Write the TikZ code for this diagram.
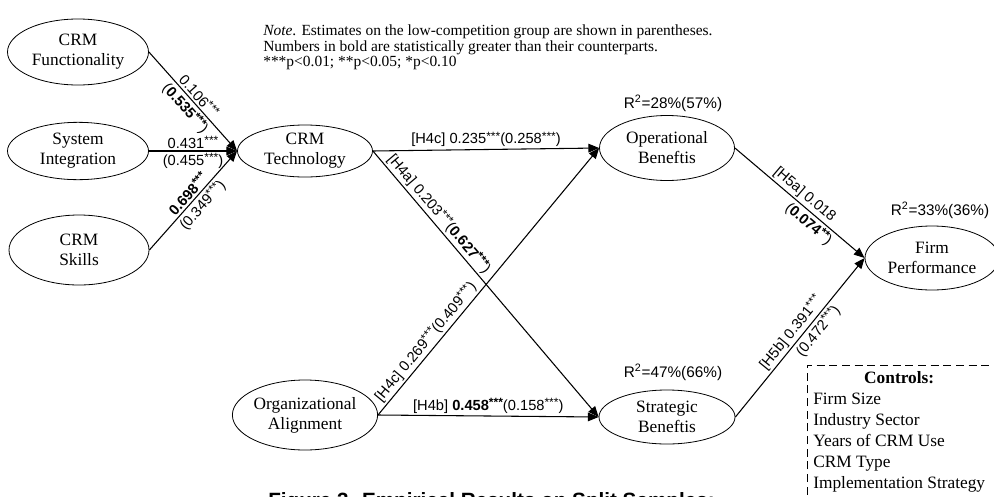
\documentclass[tikz,border=0pt]{standalone}
\usepackage{fontspec}
\setmainfont{Liberation Serif}
\setsansfont{Liberation Sans}
\usetikzlibrary{shapes.geometric, arrows.meta, positioning}
\newcommand{\sig}[1]{\raisebox{0.5ex}{\fontsize{9}{9}\selectfont#1}}
\tikzset{
    construct/.style={draw, ellipse, line width=0.6pt, inner sep=0pt,
        align=center, font=\fontsize{13}{15}\selectfont},
    effect/.style={draw, line width=0.8pt,
        -{Triangle[length=8pt, width=6.5pt]}},
    coef/.style={font=\sffamily\fontsize{11}{12}\selectfont, inner sep=1.5pt},
    rsq/.style={font=\sffamily\fontsize{11.5}{12}\selectfont, inner sep=0pt},
    ctrldash/.style={line width=0.6pt, dash pattern=on 6pt off 3.5pt},
}
\begin{document}
\begin{tikzpicture}[x=0.75pt, y=-0.75pt]
        \clip (0, 0) rectangle (994, 496);
        % antecedents
        \node[construct, minimum width=105.75pt, minimum height=49.5pt]
            (func) at (78, 52) {CRM\\Functionality};
        \node[construct, minimum width=105.75pt, minimum height=43pt]
            (sys) at (78, 151) {System\\Integration};
        \node[construct, minimum width=105pt, minimum height=52.5pt]
            (skills) at (79, 250) {CRM\\Skills};
        \node[construct, minimum width=101.25pt, minimum height=39pt]
            (tech) at (305, 151) {CRM\\Technology};
        \node[construct, minimum width=105pt, minimum height=52.5pt]
            (org) at (305, 415) {Organizational\\Alignment};
        % outcomes
        \node[construct, minimum width=101.25pt, minimum height=48.75pt]
            (oper) at (667, 148) {Operational\\Beneftis};
        \node[construct, minimum width=102pt, minimum height=40.5pt]
            (strat) at (667, 417) {Strategic\\Beneftis};
        \node[construct, minimum width=100.5pt, minimum height=48pt]
            (firm) at (932, 258) {Firm\\Performance};
        \node[rsq] (r2-oper) at (673, 103) {R\textsuperscript{2}=28\%(57\%)};
        \node[rsq] (r2-strat) at (673, 372) {R\textsuperscript{2}=47\%(66\%)};
        \node[rsq] (r2-firm) at (940, 210) {R\textsuperscript{2}=33\%(36\%)};

        \begin{scope}[every node/.style={coef}]
            \draw[effect] (func.east) -- (tech.west)
                node[sloped, above, pos=.5] (c-func-a) {0.106\sig{***}}
                node[sloped, below, pos=.5] (c-func-b) {(\textbf{0.535\sig{***}})};
            \draw[effect] (sys.east) -- (tech.west)
                node[above, pos=.5] (c-sys-a) {0.431\sig{***}}
                node[below, pos=.5] (c-sys-b) {(0.455\sig{***})};
            \draw[effect] (skills.east) -- (tech.west)
                node[sloped, above, pos=.51] (c-skills-a) {\textbf{0.698\sig{***}}}
                node[sloped, below, pos=.52] (c-skills-b) {(0.349\sig{***})};
            \draw[effect] (tech.east) -- (oper.west)
                node[above, pos=.5] (c-h4c-t) {[H4c] 0.235\sig{***}(0.258\sig{***})};
            \draw[effect] (tech.east) -- (strat.west)
                node[sloped, above, pos=.26] (c-h4a) {[H4a] 0.203\sig{***}(\textbf{0.627\sig{***}})};
            \draw[effect] (org.east) -- (oper.west)
                node[sloped, above, pos=.25] (c-h4c-o) {[H4c] 0.269\sig{***}(0.409\sig{***})};
            \draw[effect] (org.east) -- (strat.west)
                node[above, pos=.5] (c-h4b) {[H4b] \textbf{0.458\sig{***}}(0.158\sig{***})};
            \draw[effect] (oper.east) -- (firm.west)
                node[sloped, above, pos=.49] (c-h5a-a) {[H5a] 0.018}
                node[sloped, below, pos=.62] (c-h5a-b) {(\textbf{0.074\sig{**}})};
            \draw[effect] (strat.east) -- (firm.west)
                node[sloped, above, pos=.49] (c-h5b-a) {[H5b] 0.391\sig{***}}
                node[sloped, below, pos=.58] (c-h5b-b) {(0.472\sig{***})};
        \end{scope}

        \node[anchor=north west, inner sep=0pt, align=left,
            font=\fontsize{11.6}{9.5}\selectfont] (note) at (263, 25)
            {\textit{Note}. Estimates on the low-competition group are shown in parentheses.\\
             Numbers in bold are statistically greater than their counterparts.\\
             ***p<0.01; **p<0.05; *p<0.10};

        % controls box runs off the page
        \draw[ctrldash] (807, 520) |- (1010, 365);
        \node[anchor=north west, inner sep=0pt,
            font=\fontsize{13}{15.75}\selectfont] (controls) at (813, 369)
            {\begin{tabular}{@{}l@{}}
                \multicolumn{1}{@{}c@{}}{\textbf{Controls:}}\\
                Firm Size\\ Industry Sector\\ Years of CRM Use\\
                CRM Type\\ Implementation Strategy
             \end{tabular}};

        \node[anchor=base west, inner sep=0pt,
            font=\sffamily\bfseries\fontsize{15.5}{18}\selectfont]
            (caption) at (268, 507) {Figure 3. Empirical Results on Split Samples:};
    \end{tikzpicture}
\end{document}
